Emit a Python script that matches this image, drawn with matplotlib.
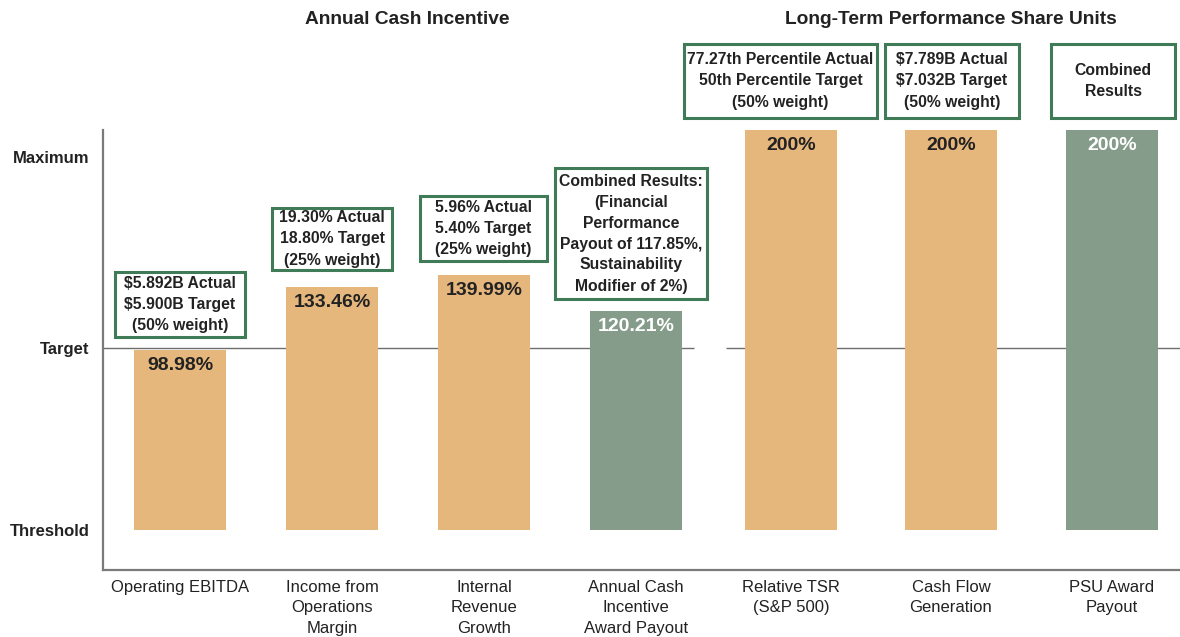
import matplotlib.pyplot as plt
from matplotlib.patches import Rectangle

plt.rcParams["font.family"] = ["Liberation Sans", "DejaVu Sans"]

# data
categories = [
    "Operating EBITDA",
    "Income from\nOperations\nMargin",
    "Internal\nRevenue\nGrowth",
    "Annual Cash\nIncentive\nAward Payout",
    "Relative TSR\n(S&P 500)",
    "Cash Flow\nGeneration",
    "PSU Award\nPayout",
]
payout_labels = ["98.98%", "133.46%", "139.99%", "120.21%", "200%", "200%", "200%"]
# bar heights as drawn (200% bars are drawn a little past "Maximum")
bar_heights = [98.98, 133.46, 139.99, 120.21, 220, 220, 220]
is_combined = [False, False, False, True, False, False, True]
level_names = ["Threshold", "Target", "Maximum"]
level_values = [0, 100, 205]
box_texts = [
    "$5.892B Actual\n$5.900B Target\n(50% weight)",
    "19.30% Actual\n18.80% Target\n(25% weight)",
    "5.96% Actual\n5.40% Target\n(25% weight)",
    "Combined Results:\n(Financial\nPerformance\nPayout of 117.85%,\nSustainability\nModifier of 2%)",
    "77.27th Percentile Actual\n50th Percentile Target\n(50% weight)",
    "$7.789B Actual\n$7.032B Target\n(50% weight)",
    "Combined\nResults",
]
section_titles = ["Annual Cash Incentive", "Long-Term Performance Share Units"]

# layout (pixel positions in the 1180x637 canvas)
W, H = 1180, 637
bar_x = [180, 332, 484, 636, 791, 951, 1112]
bar_w = 92
boxes = [  # x0, x1, y0, y1
    (115, 245, 272, 337),
    (272, 392, 208, 270),
    (420, 547, 196, 261),
    (555, 707, 168, 299),
    (684, 877, 44, 118),
    (885, 1019, 44, 118),
    (1051, 1175, 44, 118),
]
title_x = [407, 951]

ORANGE = "#E6B77D"
GREEN = "#869C8A"
BOX_EDGE = "#3F7B57"
TEXT = "#222222"
AXIS = "#7A7A7A"

fig = plt.figure(figsize=(W / 100, H / 100), dpi=100)
ax = fig.add_axes([103 / W, (H - 570) / H, 1 - 103 / W, (570 - 130) / H])

colors = [GREEN if c else ORANGE for c in is_combined]
bars = ax.bar(bar_x, bar_heights, width=bar_w, color=colors, zorder=2, clip_on=False)

for rect, lab, comb in zip(bars, payout_labels, is_combined):
    ax.annotate(lab, (rect.get_x() + rect.get_width() / 2, rect.get_height()),
                xytext=(0, -5), textcoords="offset points", ha="center", va="top",
                fontsize=14, fontweight="bold", color="white" if comb else TEXT, zorder=3)

ax.set_xlim(103, W)
ax.set_ylim(-22, 220)

# target line with a gap between the two sections
ax.hlines(100, 103, 694, color="#6E6E6E", lw=1, zorder=1)
ax.hlines(100, 726, W, color="#6E6E6E", lw=1, zorder=1)

ax.set_xticks(bar_x)
ax.set_xticklabels(categories, fontsize=12, color=TEXT, linespacing=1.45)
ax.set_yticks(level_values)
ax.set_yticklabels(level_names, fontsize=12, fontweight="bold", color=TEXT)
ax.tick_params(axis="both", length=0)
ax.tick_params(axis="x", pad=7)
ax.tick_params(axis="y", pad=9.5)

for side in ["top", "right"]:
    ax.spines[side].set_visible(False)
for side in ["left", "bottom"]:
    ax.spines[side].set_color(AXIS)
    ax.spines[side].set_linewidth(1.6)

# annotation layer in pixel coordinates
ov = fig.add_axes([0, 0, 1, 1], facecolor="none")
ov.set_xlim(0, W)
ov.set_ylim(H, 0)
ov.axis("off")

for (x0, x1, y0, y1), txt in zip(boxes, box_texts):
    ov.add_patch(Rectangle((x0, y0), x1 - x0, y1 - y0, fill=False,
                           edgecolor=BOX_EDGE, lw=2.2))
    ov.text((x0 + x1) / 2, (y0 + y1) / 2, txt, ha="center", va="center",
            fontsize=11.3, fontweight="bold", color=TEXT, linespacing=1.5)

for tx, title in zip(title_x, section_titles):
    ov.text(tx, 20, title, ha="center", va="center", fontsize=13.8,
            fontweight="bold", color=TEXT)

fig.savefig("out.png", dpi=100)
